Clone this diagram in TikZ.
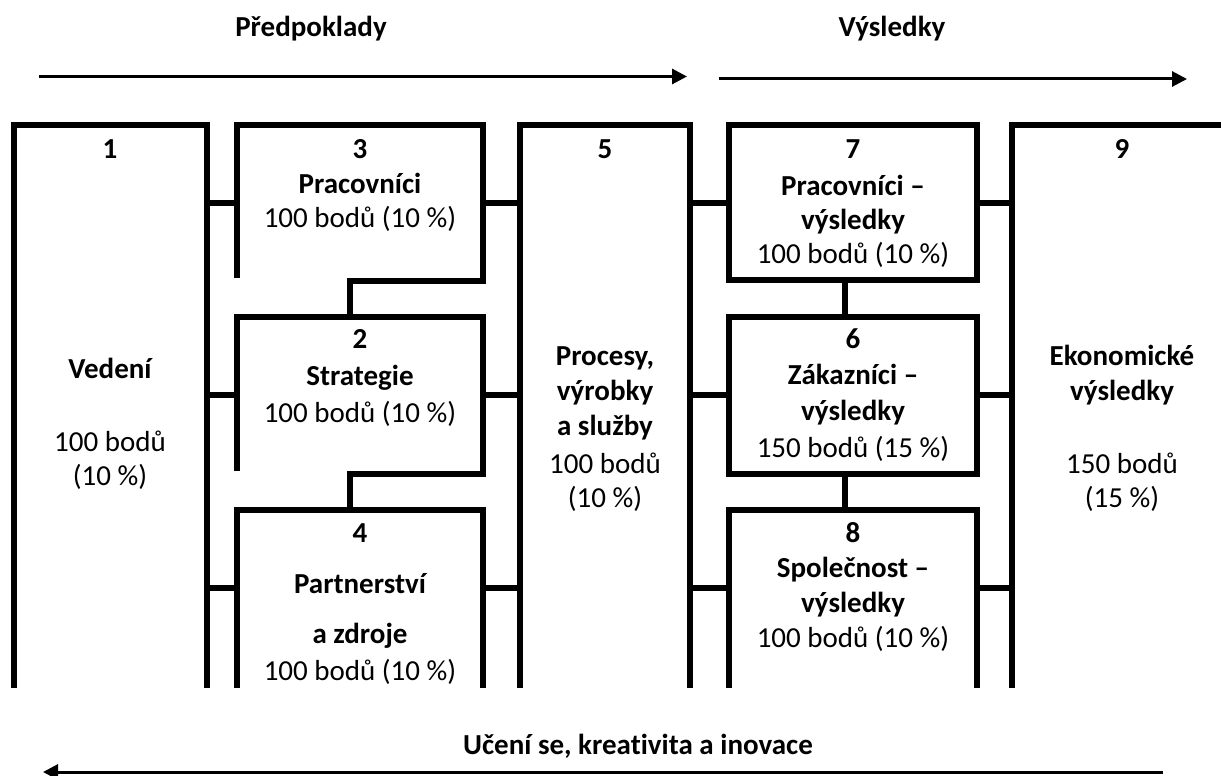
\documentclass[tikz,border=0pt]{standalone}
\usepackage{fontspec}
\setmainfont{Carlito}[Ligatures=NoCommon]
\usetikzlibrary{arrows.meta}
\begin{document}
\begin{tikzpicture}[x=1pt,y=-1pt,
  wall/.style={line width=6.5pt, line join=miter, line cap=butt},
  flow/.style={line width=3pt, -{Triangle[length=15pt,width=15pt]}},
  reg/.style={anchor=base, inner sep=0pt, font=\fontsize{29}{35}\selectfont},
  bld/.style={anchor=base, inner sep=0pt, font=\fontsize{29}{35}\selectfont\bfseries}]
\useasboundingbox (0,0) rectangle (1221,776);
\clip (0,0) rectangle (1221,776);

% coordinates for arrows
\coordinate (a1s) at (39,76.5);  \coordinate (a1e) at (687,76.5);
\coordinate (a2s) at (719,79);   \coordinate (a2e) at (1187,79);
\coordinate (a3s) at (1163,772); \coordinate (a3e) at (43,772);
\draw[flow] (a1s) -- (a1e);
\draw[flow] (a2s) -- (a2e);
\draw[flow] (a3s) -- (a3e);

\node[bld] (hPred) at (311,37) {Předpoklady};
\node[bld] (hVysl) at (892,37) {Výsledky};
\node[bld] (hUcen) at (638,754) {Učení se, kreativita a inovace};

% box 1
\draw[wall] (14,688) -- (14,125) -- (207,125) -- (207,688);
% boxes 3, 2, 4
\draw[wall] (237,278) -- (237,125) -- (483,125) -- (483,281) -- (350,281) -- (350,317);
\draw[wall] (237,471) -- (237,317) -- (483,317) -- (483,474) -- (350,474) -- (350,510);
\draw[wall] (237,688) -- (237,510) -- (483,510) -- (483,688);
% box 5
\draw[wall] (520,688) -- (520,125) -- (690,125) -- (690,688);
% boxes 7, 6, 8
\draw[wall] (729,125) rectangle (977,280);
\draw[wall] (845,280) -- (845,317);
\draw[wall] (729,317) rectangle (977,474);
\draw[wall] (845,474) -- (845,510);
\draw[wall] (729,688) -- (729,510) -- (977,510) -- (977,688);
% box 9
\draw[wall] (1012,688) -- (1012,125) -- (1240,125);

% horizontal links
\foreach \yy in {203,395,588}{
  \draw[wall] (207,\yy) -- (237,\yy);
  \draw[wall] (483,\yy) -- (520,\yy);
  \draw[wall] (690,\yy) -- (729,\yy);
  \draw[wall] (977,\yy) -- (1012,\yy);
}

% texts box 1
\node[bld] (n1) at (110,158) {1};
\node[bld] (t1a) at (110,378) {Vedení};
\node[reg] (t1b) at (110,451) {100 bodů};
\node[reg] (t1c) at (110,485) {(10~\%)};
% box 3
\node[bld] (n3) at (360,158) {3};
\node[bld] (t3a) at (360,193) {Pracovníci};
\node[reg] (t3b) at (360,227) {100 bodů (10~\%)};
% box 2
\node[bld] (n2) at (360,348) {2};
\node[bld] (t2a) at (360,385) {Strategie};
\node[reg] (t2b) at (360,422) {100 bodů (10~\%)};
% box 4
\node[bld] (n4) at (360,542) {4};
\node[bld] (t4a) at (360,593) {Partnerství};
\node[bld] (t4b) at (360,643) {a zdroje};
\node[reg] (t4c) at (360,680) {100 bodů (10~\%)};
% box 5
\node[bld] (n5) at (605,158) {5};
\node[bld] (t5a) at (605,365) {Procesy,};
\node[bld] (t5b) at (605,400) {výrobky};
\node[bld] (t5c) at (605,435) {a služby};
\node[reg] (t5d) at (605,473) {100 bodů};
\node[reg] (t5e) at (605,507) {(10~\%)};
% box 7
\node[bld] (n7) at (853,158) {7};
\node[bld] (t7a) at (853,195) {Pracovníci –};
\node[bld] (t7b) at (853,229) {výsledky};
\node[reg] (t7c) at (853,263) {100 bodů (10~\%)};
% box 6
\node[bld] (n6) at (853,348) {6};
\node[bld] (t6a) at (853,384) {Zákazníci –};
\node[bld] (t6b) at (853,420) {výsledky};
\node[reg] (t6c) at (853,457) {150 bodů (15~\%)};
% box 8
\node[bld] (n8) at (853,542) {8};
\node[bld] (t8a) at (853,577) {Společnost –};
\node[bld] (t8b) at (853,612) {výsledky};
\node[reg] (t8c) at (853,647) {100 bodů (10~\%)};
% box 9
\node[bld] (n9) at (1122,158) {9};
\node[bld] (t9a) at (1122,365) {Ekonomické};
\node[bld] (t9b) at (1122,400) {výsledky};
\node[reg] (t9c) at (1122,473) {150 bodů};
\node[reg] (t9d) at (1122,507) {(15~\%)};
\end{tikzpicture}
\end{document}
